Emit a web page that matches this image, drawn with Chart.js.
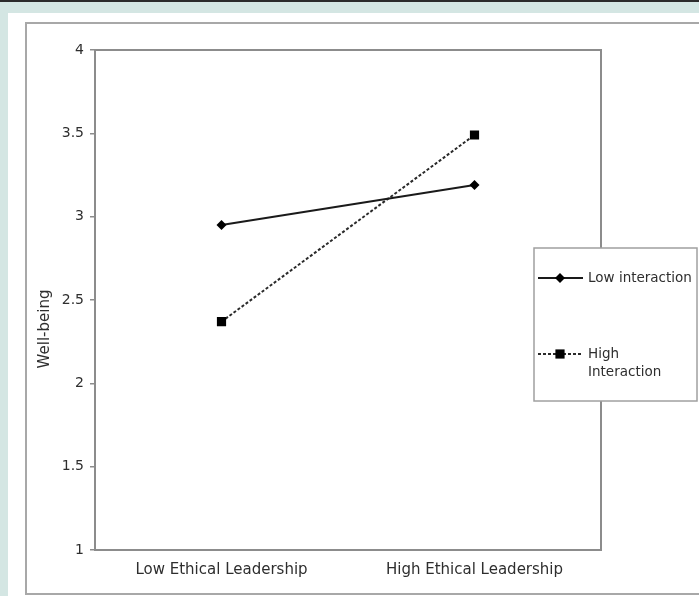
<!DOCTYPE html>
<html>
<head>
<meta charset="utf-8">
<title>Well-being by Ethical Leadership</title>
<script src="https://cdn.jsdelivr.net/npm/chart.js@4.4.1/dist/chart.umd.min.js"></script>
<style>
  html, body { margin: 0; padding: 0; }
  body { width: 699px; height: 596px; position: relative; overflow: hidden; background: #d4e6e3; }
  #topline { position: absolute; left: 0; top: 0; width: 699px; height: 2px; background: #2b2b2b; }
  #panel { position: absolute; left: 8px; top: 13px; width: 691px; height: 583px; background: #fff; }
  #frame { position: absolute; left: 25px; top: 22px; width: 700px; height: 569px;
           border: 2px solid #a8a8a8; border-right: none; }
  #chart { position: absolute; left: 0; top: 0; }
</style>
</head>
<body>
<div id="topline"></div>
<div id="panel"></div>
<div id="frame"></div>
<canvas id="chart" width="699" height="596"></canvas>
<script>
// Data
const CATEGORIES = ['Low Ethical Leadership', 'High Ethical Leadership'];
const SERIES_LABELS = ['Low interaction', 'High Interaction'];
const LOW_INTERACTION = [2.95, 3.19];
const HIGH_INTERACTION = [2.37, 3.49];
const Y_TITLE = 'Well-being';

const FONT = '"DejaVu Sans", "Liberation Sans", Arial, sans-serif';
const TEXT_COLOR = '#2e2e2e';
const FRAME_COLOR = '#8c8c8c';

// plot box border (top and right included)
const plotFrame = {
  id: 'plotFrame',
  beforeDatasetsDraw(chart) {
    const { ctx, chartArea: a } = chart;
    ctx.save();
    ctx.strokeStyle = FRAME_COLOR;
    ctx.lineWidth = 2;
    ctx.strokeRect(a.left, a.top, a.right - a.left, a.bottom - a.top);
    ctx.restore();
  }
};

// rotated y title, sits a bit below the middle like the original
const yTitle = {
  id: 'yTitle',
  afterDraw(chart) {
    const { ctx } = chart;
    ctx.save();
    ctx.translate(45, 329);
    ctx.rotate(-Math.PI / 2);
    ctx.font = '15px ' + FONT;
    ctx.fillStyle = TEXT_COLOR;
    ctx.textAlign = 'center';
    ctx.textBaseline = 'middle';
    ctx.fillText(Y_TITLE, 0, 0);
    ctx.restore();
  }
};

function wrapText(ctx, text, maxWidth) {
  const words = text.split(' ');
  const lines = [];
  let line = '';
  words.forEach(w => {
    const test = line ? line + ' ' + w : w;
    if (ctx.measureText(test).width > maxWidth && line) {
      lines.push(line);
      line = w;
    } else {
      line = test;
    }
  });
  if (line) lines.push(line);
  return lines;
}

// boxed legend overlapping the right edge of the plot
const boxLegend = {
  id: 'boxLegend',
  afterDraw(chart) {
    const { ctx } = chart;
    const box = { x: 534, y: 248, w: 163, h: 153 };
    const rowY = [278, 354];
    ctx.save();
    ctx.fillStyle = '#fff';
    ctx.fillRect(box.x, box.y, box.w, box.h);
    ctx.strokeStyle = '#a0a0a0';
    ctx.lineWidth = 1.5;
    ctx.strokeRect(box.x, box.y, box.w, box.h);

    chart.data.datasets.forEach((ds, i) => {
      const y = rowY[i];
      ctx.save();
      ctx.strokeStyle = ds.borderColor;
      ctx.lineWidth = ds.borderWidth;
      ctx.setLineDash(ds.borderDash || []);
      ctx.beginPath();
      ctx.moveTo(538, y);
      ctx.lineTo(583, y);
      ctx.stroke();
      ctx.restore();
      ctx.fillStyle = ds.pointBackgroundColor;
      ctx.strokeStyle = ds.pointBorderColor;
      Chart.helpers.drawPoint(ctx, {
        pointStyle: ds.pointStyle,
        radius: ds.pointRadius,
        borderWidth: 0,
        rotation: 0
      }, 560, y);

      ctx.font = '13.5px ' + FONT;
      ctx.fillStyle = TEXT_COLOR;
      ctx.textAlign = 'left';
      ctx.textBaseline = 'middle';
      // "High Interaction" breaks onto two lines like in the original
      const lines = wrapText(ctx, ds.label, 104);
      lines.forEach((ln, k) => ctx.fillText(ln, 588, y + k * 18));
    });
    ctx.restore();
  }
};

const ctx = document.getElementById('chart').getContext('2d');
new Chart(ctx, {
  type: 'line',
  data: {
    labels: CATEGORIES,
    datasets: [
      {
        label: SERIES_LABELS[0],
        data: LOW_INTERACTION,
        borderColor: '#1a1a1a',
        borderWidth: 2,
        pointStyle: 'rectRot',
        pointRadius: 5,
        pointBackgroundColor: '#000',
        pointBorderColor: '#000',
        pointBorderWidth: 0,
        tension: 0
      },
      {
        label: SERIES_LABELS[1],
        data: HIGH_INTERACTION,
        borderColor: '#2a2a2a',
        borderWidth: 2,
        borderDash: [3, 2],
        pointStyle: 'rect',
        pointRadius: 6.5,
        pointBackgroundColor: '#000',
        pointBorderColor: '#000',
        pointBorderWidth: 0,
        tension: 0
      }
    ]
  },
  options: {
    responsive: false,
    animation: false,
    devicePixelRatio: 1,
    layout: { padding: { left: 20, right: 98, top: 50, bottom: 18 } },
    plugins: {
      legend: { display: false },
      tooltip: { enabled: false }
    },
    scales: {
      x: {
        offset: true,
        grid: { display: false, drawTicks: false },
        border: { display: false },
        ticks: { color: TEXT_COLOR, font: { family: FONT, size: 15 }, padding: 11, maxRotation: 0 },
        afterFit(scale) { scale.height = 28; }
      },
      y: {
        min: 1,
        max: 4,
        border: { display: false },
        grid: { drawOnChartArea: false, drawTicks: true, tickLength: 5, color: FRAME_COLOR, lineWidth: 1.5 },
        ticks: {
          stepSize: 0.5,
          color: TEXT_COLOR,
          font: { family: FONT, size: 14 },
          padding: 6,
          callback: v => String(v)
        },
        afterFit(scale) { scale.width = 75; }
      }
    }
  },
  plugins: [plotFrame, yTitle, boxLegend]
});
</script>
</body>
</html>
